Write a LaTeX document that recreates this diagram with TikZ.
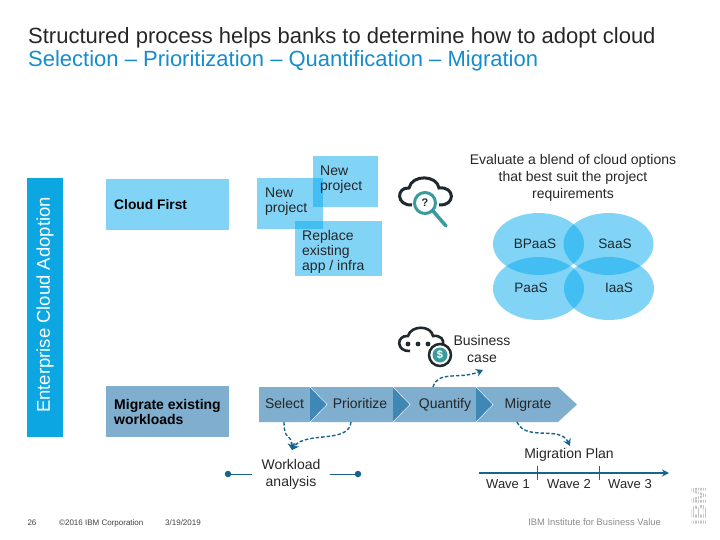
\documentclass[tikz,border=0pt]{standalone}
\usepackage{fontspec}
\setmainfont{Liberation Sans}
\usepackage{xcolor}
\usetikzlibrary{arrows.meta, positioning, calc, shapes.geometric}
\definecolor{titleblue}{RGB}{20, 140, 205}
\definecolor{barblue}{RGB}{12, 167, 226}
\definecolor{skyblue}{RGB}{5, 169, 239}
\definecolor{steel}{RGB}{127, 174, 207}
\definecolor{steeldark}{RGB}{63, 135, 181}
\definecolor{navy}{RGB}{24, 100, 142}
\definecolor{teal}{RGB}{58, 154, 158}
\definecolor{inkdark}{RGB}{30, 40, 45}
\definecolor{logogray}{RGB}{195, 195, 195}
\tikzstyle{panel} = [rectangle, fill=skyblue, fill opacity=0.5, inner sep=0pt]
\tikzstyle{blend} = [ellipse, fill=skyblue, fill opacity=0.5, inner sep=0pt]
\tikzstyle{label} = [font=\fontsize{14}{17}\selectfont, align=center, inner sep=0pt, text=black!85]
\tikzstyle{panellabel} = [font=\fontsize{14}{15}\selectfont, anchor=west, align=left, inner sep=0pt, text=black!85]
\tikzstyle{steplabel} = [font=\fontsize{14}{17}\selectfont, text height=10pt, text depth=3pt, inner sep=0pt, text=black!85]
\tikzstyle{wavelabel} = [font=\fontsize{13}{15}\selectfont, inner sep=0pt, text=black!85]
\tikzstyle{vennlabel} = [font=\fontsize{13.6}{15}\selectfont, text=inkdark, inner sep=0pt]
\tikzstyle{foot} = [font=\fontsize{8}{9}\selectfont, text=black!75, inner sep=0pt]
\tikzstyle{flow} = [dash pattern=on 3.5pt off 2pt, line width=1.4pt, navy, -{Stealth[length=7pt,width=8pt]}]
\tikzstyle{dotline} = [navy, line width=0.9pt]
\tikzstyle{dotend} = [circle, fill=navy, minimum size=6.5pt, inner sep=0pt]
\begin{document}
\begin{tikzpicture}[x=1pt, y=-1pt]
    \useasboundingbox (0, 0) rectangle (720, 540);

    % Title
    \node[anchor=west, inner sep=0pt, font=\fontsize{22}{26}\selectfont, text=black!85] (title) at (28, 38) {Structured process helps banks to determine how to adopt cloud};
    \node[anchor=west, inner sep=0pt, font=\fontsize{22}{26}\selectfont, text=titleblue] (subtitle) at (28, 61) {Selection -- Prioritization -- Quantification -- Migration};

    % Left bar and row boxes
    \fill[barblue] (27, 178) rectangle (63, 437);
    \node[rotate=90, text=white, inner sep=0pt, font=\fontsize{18.5}{20}\selectfont] (adoption) at (45, 305) {Enterprise Cloud Adoption};
    \fill[skyblue, fill opacity=0.5] (106, 179) rectangle (229, 230);
    \node[anchor=west, inner sep=0pt, font=\bfseries\fontsize{13.8}{15}\selectfont] (first) at (114, 204.5) {Cloud First};
    \fill[steel] (106, 386) rectangle (229, 437);
    \node[anchor=west, inner sep=0pt, align=left, font=\bfseries\fontsize{14}{15}\selectfont] (existing) at (114, 411.5) {Migrate existing\\workloads};

    % Project boxes
    \node[panel, minimum width=66pt, minimum height=51pt] (newa) at (290, 203.5) {};
    \node[panel, minimum width=65pt, minimum height=51pt] (newb) at (345.5, 181.5) {};
    \node[panel, minimum width=87pt, minimum height=55pt] (replace) at (338.5, 248.5) {};
    \node[panellabel] (newatext) at (265, 201.5) {New\\project};
    \node[panellabel] (newbtext) at (320, 179.5) {New\\project};
    \node[panellabel] (replacetext) at (302, 252) {Replace\\existing\\app / infra};

    % Evaluate text and options
    \node[label] (evaluate) at (573, 177.5) {Evaluate a blend of cloud options\\that best suit the project\\requirements};
    \node[blend, minimum width=91pt, minimum height=62pt] (bpaas) at (538.5, 244) {};
    \node[blend, minimum width=90pt, minimum height=62pt] (saas) at (608.5, 244) {};
    \node[blend, minimum width=91pt, minimum height=63pt] (paas) at (538.5, 288.5) {};
    \node[blend, minimum width=90pt, minimum height=63pt] (iaas) at (609, 288.5) {};
    \node[vennlabel] (bpaaslabel) at (535, 243.5) {BPaaS};
    \node[vennlabel] (saaslabel) at (615, 243.5) {SaaS};
    \node[vennlabel] (paaslabel) at (531, 287.5) {PaaS};
    \node[vennlabel] (iaaslabel) at (619, 287.5) {IaaS};

    % Cloud icons
    \draw[inkdark, line width=3pt] (412, 205) .. controls (396, 206) and (396, 187) .. (409, 188) .. controls (412, 174) and (437, 175) .. (439, 188) .. controls (455, 186) and (456, 206) .. (439, 205);
    \draw[teal, line width=3pt, fill=white] (425, 203) circle (10.5);
    \draw[teal, line width=3.5pt, line cap=round] (433, 211) -- (446, 226);
    \node[font=\bfseries\fontsize{11}{11}\selectfont, text=inkdark, inner sep=0pt] (query) at (425, 203) {?};
    \draw[inkdark, line width=2.6pt] (410, 351) .. controls (396, 352) and (396, 335) .. (408, 336) .. controls (411, 325) and (431, 325) .. (433, 336) .. controls (441, 335) and (444, 340) .. (443, 344);
    \fill[inkdark] (408, 344) circle (2.4) (418, 344) circle (2.4) (428, 344) circle (2.4);
    \draw[inkdark, line width=2.5pt, fill=white] (440, 355) circle (11);
    \fill[teal] (440, 355) circle (7.5);
    \node[font=\bfseries\fontsize{11}{11}\selectfont, text=white, inner sep=0pt] (dollar) at (440, 355) {\$};
    \node[label] (business) at (482, 349) {Business\\case};

    % Process chevrons
    \fill[steel] (259, 387) -- (558, 387) -- (577, 404.5) -- (558, 422) -- (259, 422) -- cycle;
    \foreach \x in {310, 393, 476} {
        \fill[steeldark] (\x, 387) -- (\x+17, 404.5) -- (\x, 422) -- cycle;
        \draw[white, thin] (\x, 387) -- (\x+17, 404.5) -- (\x, 422);
    }
    \node[steplabel] (select) at (284.5, 404.5) {Select};
    \node[steplabel] (prioritize) at (360, 404.5) {Prioritize};
    \node[steplabel] (quantify) at (445, 404.5) {Quantify};
    \node[steplabel] (migrate) at (528, 404.5) {Migrate};

    % Workload analysis
    \node[label] (workload) at (291, 474) {Workload\\analysis};
    \node[dotend] (dotleft) at (228, 474) {};
    \node[dotend] (dotright) at (358, 474) {};
    \draw[dotline, shorten >=9pt] (dotleft) -- (workload);
    \draw[dotline, shorten <=9pt] (workload) -- (dotright);

    % Migration plan
    \node[label] (plan) at (569, 455) {Migration Plan};
    \coordinate (planstart) at (479, 473);
    \coordinate (planend) at (669, 473);
    \draw[navy, line width=1.4pt, -{Stealth[length=7pt,width=7pt]}] (planstart) -- (planend);
    \draw[navy, thin] (537, 466) -- (537, 480);
    \draw[navy, thin] (599, 466) -- (599, 480);
    \node[wavelabel] (waveone) at (508, 484.5) {Wave 1};
    \node[wavelabel] (wavetwo) at (569, 484.5) {Wave 2};
    \node[wavelabel] (wavethree) at (630, 484.5) {Wave 3};

    % Dashed links
    \coordinate (selectout) at (284, 422);
    \coordinate (prioout) at (351, 422);
    \coordinate (quantout) at (433, 387);
    \coordinate (migrateout) at (517, 422);
    \coordinate (workin) at (292, 450);
    \coordinate (businessin) at (483, 370);
    \coordinate (planin) at (570, 446);
    \draw[flow] (selectout) .. controls (284, 442) and (291, 432) .. (workin);
    \draw[flow] (prioout) .. controls (349, 444) and (305, 431) .. (workin);
    \draw[flow] (quantout) .. controls (438, 370) and (460, 380) .. (businessin);
    \draw[flow] (migrateout) .. controls (526, 442) and (560, 425) .. (planin);

    % Footer
    \node[foot] (page) at (32, 523) {26};
    \node[foot, anchor=west] (copyright) at (59, 523) {\copyright 2016 IBM Corporation};
    \node[foot, anchor=west] (date) at (165, 523) {3/19/2019};
    \node[foot, anchor=east, text=black!45, font=\fontsize{9.4}{10}\selectfont] (institute) at (661, 522) {IBM Institute for Business Value};
    \node[rotate=90, text=logogray, inner sep=0pt, font=\bfseries\fontsize{21}{21}\selectfont] (logo) at (699, 506) {IBM};
    \foreach \x in {692, 694.5, ..., 707} {
        \draw[white, line width=0.7pt] (\x, 484) -- (\x, 527);
    }
\end{tikzpicture}
\end{document}
